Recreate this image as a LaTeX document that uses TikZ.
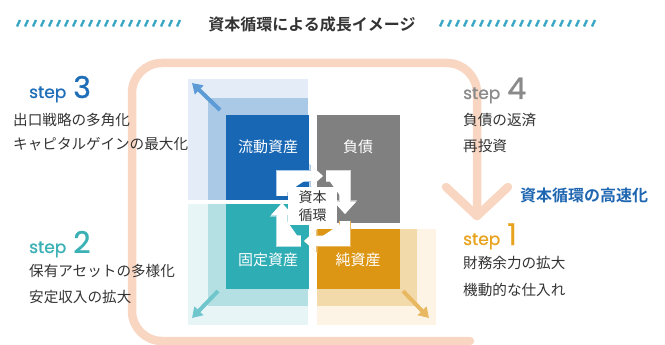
\documentclass[tikz,border=0pt]{standalone}
\usepackage{fontspec}
\setmainfont{Noto Sans CJK JP}
\newfontfamily\jpb{Noto Sans CJK JP}[BoldFont={* Bold}]
\newfontfamily\stepfont{Poppins}[FakeBold=0.9]
\usetikzlibrary{arrows.meta}
\definecolor{peach}{HTML}{F9D6C2}
\definecolor{dblue}{HTML}{1767B5}
\definecolor{mblue}{HTML}{A9C9E6}
\definecolor{lblue}{HTML}{E4EDF7}
\definecolor{dgray}{HTML}{808080}
\definecolor{dteal}{HTML}{2EADB4}
\definecolor{mteal}{HTML}{B5E0E3}
\definecolor{lteal}{HTML}{E8F5F7}
\definecolor{dorange}{HTML}{DD9614}
\definecolor{morange}{HTML}{F3DAAB}
\definecolor{lorange}{HTML}{FDF4E6}
\definecolor{ablue}{HTML}{5C9BD6}
\definecolor{ateal}{HTML}{6FC7CD}
\definecolor{aorange}{HTML}{E9B862}
\definecolor{dash}{HTML}{3AA7C4}
\definecolor{txt}{HTML}{333333}
\definecolor{s3}{HTML}{1F6EB8}
\definecolor{s2}{HTML}{3BB0B5}
\definecolor{s4}{HTML}{8A8A8A}
\definecolor{s1}{HTML}{E8A31E}
\definecolor{hi}{HTML}{1F66B1}
\tikzset{
  jp/.style={inner sep=0pt, anchor=west, text=txt, font=\fontsize{14.6}{15}\selectfont},
  boxlabel/.style={inner sep=0pt, text=white, font=\fontsize{15}{15}\selectfont},
  steplabel/.style={inner sep=0pt, anchor=base west},
  corner/.style={line width=4pt, -{Triangle[width=12pt,length=10pt]}},
  ringarrow/.style={draw=white, line width=10pt, line join=miter, -{Triangle[width=21pt,length=12pt]}},
  ringedge/.style={line width=11.4pt, line join=miter, -{Triangle[width=23.5pt,length=13.6pt]}},
  loopline/.style={draw=peach, line width=8.5pt, line cap=round, line join=round},
  hatch/.style={draw=dash, line width=2.4pt}
}
\newcommand{\stepnum}[2]{{\stepfont\fontsize{17}{17}\selectfont step\hspace{7pt}\fontsize{30}{30}\selectfont #2}}
\begin{document}
\begin{tikzpicture}[x=1pt,y=-1pt]
\useasboundingbox (0,0) rectangle (665,345);
% title dashes
\foreach \x in {17,25,...,181} { \draw[hatch] (\x,26.5) -- (\x+3,20); }
\foreach \x in {440,448,...,596} { \draw[hatch] (\x,26.5) -- (\x+3,20); }
\node[inner sep=0pt, text=txt, font=\jpb\bfseries\fontsize{16}{16}\selectfont] (title) at (312,24) {資本循環による成長イメージ};
% peach loop
\coordinate (lb) at (470,341);
\coordinate (tip) at (477,216);
\draw[loopline] (lb) -- (162,341) arc[start angle=90, end angle=180, radius=30] -- (132,93) arc[start angle=180, end angle=270, radius=30] -- (447,63) arc[start angle=270, end angle=360, radius=30] -- (tip);
\coordinate (vl) at (446,187);
\coordinate (vr) at (508,187);
\draw[loopline] (vl) -- (tip) -- (vr);
% light regions
\fill[lblue] (188,79) rectangle (308,200);
\fill[mblue] (208,98) rectangle (308,200);
\fill[lteal] (188,204) rectangle (308,325);
\fill[mteal] (208,204) rectangle (308,306);
\fill[lorange] (317,229) rectangle (436,325);
\fill[morange] (317,229) rectangle (417,306);
% main boxes
\node[boxlabel, fill=dblue, minimum width=83pt, minimum height=85pt] (ca) at (267.5,157.5) {};
\node[boxlabel, fill=dgray, minimum width=83pt, minimum height=108pt] (li) at (358.5,169) {};
\node[boxlabel, fill=dteal, minimum width=83pt, minimum height=85pt] (fa) at (267.5,246.5) {};
\node[boxlabel, fill=dorange, minimum width=83pt, minimum height=60pt] (na) at (358.5,259) {};
\node[boxlabel] (cat) at (268,147) {流動資産};
\node[boxlabel] (lit) at (358,147) {負債};
\node[boxlabel] (fat) at (268,260) {固定資産};
\node[boxlabel] (nat) at (358,260) {純資産};
% corner arrows
\coordinate (a1s) at (220,110); \coordinate (a1e) at (192,83);
\coordinate (a2s) at (218,291); \coordinate (a2e) at (192,318);
\coordinate (a3s) at (403,291); \coordinate (a3e) at (429,318);
\draw[corner, draw=ablue, fill=ablue] (a1s) -- (a1e);
\draw[corner, draw=ateal, fill=ateal] (a2s) -- (a2e);
\draw[corner, draw=aorange, fill=aorange] (a3s) -- (a3e);
% ring arrows
\coordinate (r1a) at (282,196); \coordinate (r1b) at (282,176); \coordinate (r1c) at (323,176);
\coordinate (r2a) at (326,176); \coordinate (r2b) at (345,176); \coordinate (r2c) at (345,214);
\coordinate (r3a) at (345,221); \coordinate (r3b) at (345,241); \coordinate (r3c) at (304,241);
\coordinate (r4a) at (301,241); \coordinate (r4b) at (282,241); \coordinate (r4c) at (282,203);
\draw[ringedge, draw=mblue, fill=mblue] (r1a) -- (r1b) -- (r1c);
\draw[ringedge, draw=white!70!dgray, fill=white!70!dgray] (r2a) -- (r2b) -- (r2c);
\draw[ringedge, draw=aorange, fill=aorange] (r3a) -- (r3b) -- (r3c);
\draw[ringedge, draw=mteal, fill=mteal] (r4a) -- (r4b) -- (r4c);
\draw[ringarrow, fill=white] (r1a) -- (r1b) -- (r1c);
\draw[ringarrow, fill=white] (r2a) -- (r2b) -- (r2c);
\draw[ringarrow, fill=white] (r3a) -- (r3b) -- (r3c);
\draw[ringarrow, fill=white] (r4a) -- (r4b) -- (r4c);
\node[fill=white, minimum width=49pt, minimum height=38pt, inner sep=0pt, text=txt, align=center, font=\fontsize{14}{18}\selectfont] (cyc) at (312.5,206) {資本\\循環};
% step texts
\node[steplabel, text=s3] (st3) at (29,98) {\stepnum{s3}{3}};
\node[jp] (t3a) at (13,120) {出口戦略の多角化};
\node[jp] (t3b) at (13,144) {キャピタルゲインの最大化};
\node[steplabel, text=s2] (st2) at (29,253) {\stepnum{s2}{2}};
\node[jp] (t2a) at (29,271) {保有アセットの多様化};
\node[jp] (t2b) at (29,297) {安定収入の拡大};
\node[steplabel, text=s4] (st4) at (463,99) {\stepnum{s4}{4}};
\node[jp] (t4a) at (463,120) {負債の返済};
\node[jp] (t4b) at (463,146) {再投資};
\node[inner sep=0pt, anchor=west, text=hi, font=\jpb\bfseries\fontsize{16}{16}\selectfont] (speed) at (520,195) {資本循環の高速化};
\node[steplabel, text=s1] (st1) at (463,245) {\stepnum{s1}{1}};
\node[jp] (t1a) at (463,263) {財務余力の拡大};
\node[jp] (t1b) at (463,290) {機動的な仕入れ};
\end{tikzpicture}
\end{document}
